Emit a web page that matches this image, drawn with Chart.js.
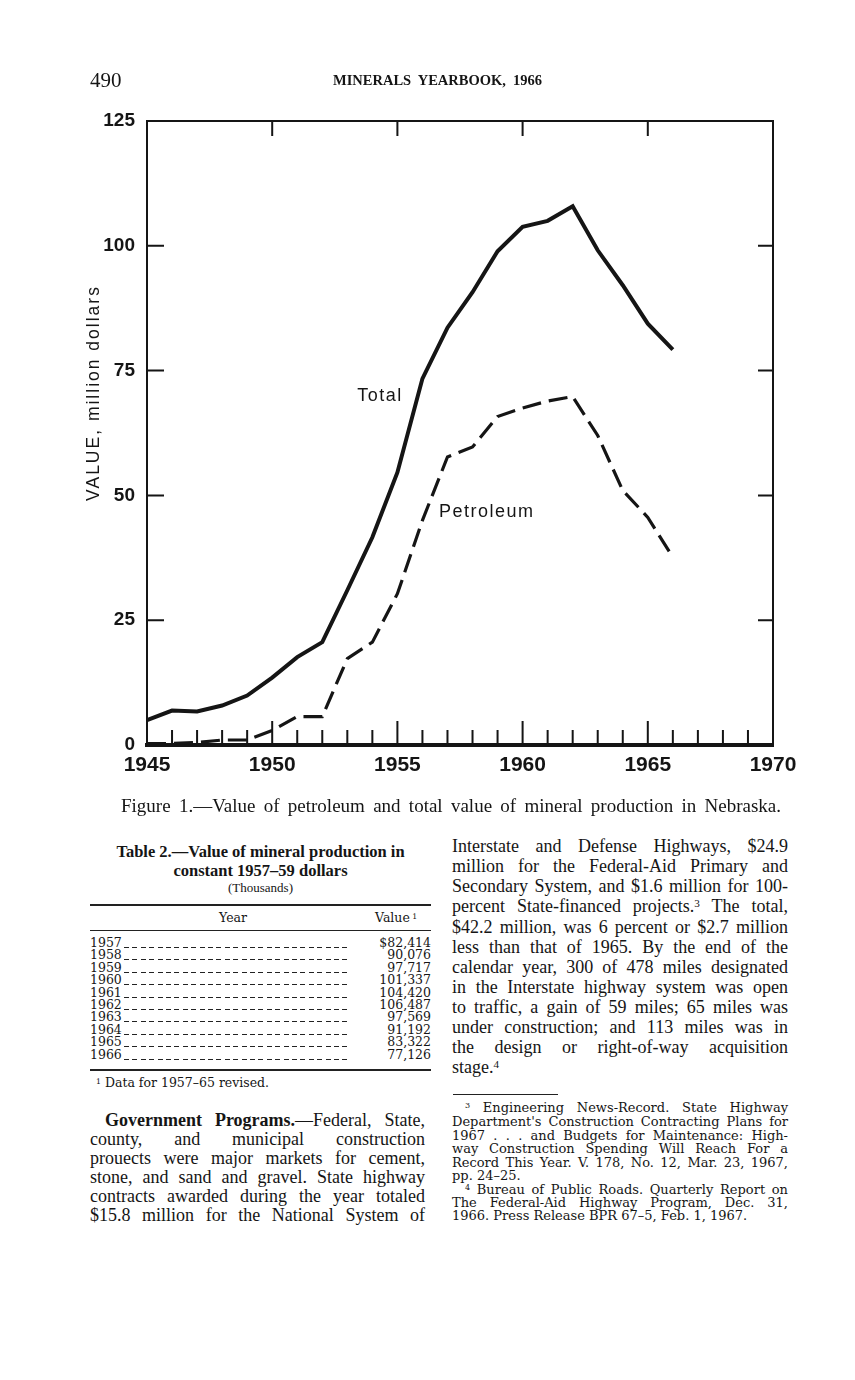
<!DOCTYPE html>
<html>
<head>
<meta charset="utf-8">
<script src="https://cdn.jsdelivr.net/npm/chart.js@4.4.0/dist/chart.umd.min.js"></script>
<style>
  body { margin: 0; background: #fff; color: #151515; }
  #page { position: relative; width: 855px; height: 1380px; overflow: hidden; }
  .ln { position: absolute; white-space: nowrap; }
  .j { text-align: justify; text-align-last: justify; }
  .serif { font-family: "Liberation Serif", serif; }
  .body { font-family: "Liberation Serif", serif; font-size: 18px; line-height: 20px; }
  .note { font-family: "DejaVu Serif", serif; font-size: 13px; line-height: 13.5px; }
  .tab { font-family: "DejaVu Serif", serif; font-size: 12.5px; line-height: 12.4px; }
  sup { font-size: 62%; line-height: 0; vertical-align: 0.45em; }
  .rule { position: absolute; background: #222; }
  .lead { position: absolute; height: 1px;
          background: repeating-linear-gradient(90deg, #222 0 5px, transparent 5px 8.4px); }
  #chartBox { position: absolute; left: 0; top: 0; width: 855px; height: 800px; }
</style>
</head>
<body>
<div id="page">
  <div id="chartBox"><canvas id="lineChart"></canvas></div>

  <!-- running head -->
  <div class="ln serif" style="left:90px; top:68px; font-size:21px; line-height:24px;">490</div>
  <div class="ln serif j" style="left:333px; top:71px; width:209px; font-size:14.5px; line-height:18px; font-weight:bold;">MINERALS YEARBOOK, 1966</div>

  <!-- figure caption -->
  <div class="ln serif j" style="left:121px; top:796px; width:660px; font-size:19px; line-height:20px;">Figure 1.—Value of petroleum and total value of mineral production in Nebraska.</div>

  <!-- table 2 -->
  <div class="ln serif" style="left:90px; top:843px; width:341px; text-align:center; font-size:16.5px; line-height:18px; font-weight:bold;">Table 2.—Value of mineral production in</div>
  <div class="ln serif" style="left:90px; top:862px; width:341px; text-align:center; font-size:16.5px; line-height:18px; font-weight:bold;">constant 1957–59 dollars</div>
  <div class="ln serif" style="left:90px; top:880px; width:341px; text-align:center; font-size:13px; line-height:16px;">(Thousands)</div>
  <div class="rule" style="left:90px; top:904px; width:341px; height:1.6px;"></div>
  <div class="ln tab" style="left:90px; top:912px; width:286px; text-align:center;">Year</div>
  <div class="ln tab" style="left:375px; top:912px;">Value<sup> 1</sup></div>
  <div class="rule" style="left:90px; top:930px; width:341px; height:1px;"></div>
  <div id="tableRows"></div>
  <div class="rule" style="left:90px; top:1069px; width:341px; height:1.6px;"></div>
  <div class="ln tab" style="left:96px; top:1077px;"><sup>1</sup> Data for 1957–65 revised.</div>

  <!-- left column text -->
  <div class="ln body j" style="left:105px; top:1110px; width:320px;"><b>Government Programs.</b>—Federal, State,</div>
  <div class="ln body j" style="left:90px; top:1129px; width:335px;">county, and municipal construction</div>
  <div class="ln body j" style="left:90px; top:1148px; width:335px;">prouects were major markets for cement,</div>
  <div class="ln body j" style="left:90px; top:1167px; width:335px;">stone, and sand and gravel. State highway</div>
  <div class="ln body j" style="left:90px; top:1186px; width:335px;">contracts awarded during the year totaled</div>
  <div class="ln body j" style="left:90px; top:1205px; width:335px;">$15.8 million for the National System of</div>

  <!-- right column text -->
  <div class="ln body j" style="left:452px; top:836px; width:336px;">Interstate and Defense Highways, $24.9</div>
  <div class="ln body j" style="left:452px; top:856px; width:336px;">million for the Federal-Aid Primary and</div>
  <div class="ln body j" style="left:452px; top:876px; width:336px;">Secondary System, and $1.6 million for 100-</div>
  <div class="ln body j" style="left:452px; top:896px; width:336px;">percent State-financed projects.<sup>3</sup> The total,</div>
  <div class="ln body j" style="left:452px; top:917px; width:336px;">$42.2 million, was 6 percent or $2.7 million</div>
  <div class="ln body j" style="left:452px; top:937px; width:336px;">less than that of 1965. By the end of the</div>
  <div class="ln body j" style="left:452px; top:957px; width:336px;">calendar year, 300 of 478 miles designated</div>
  <div class="ln body j" style="left:452px; top:977px; width:336px;">in the Interstate highway system was open</div>
  <div class="ln body j" style="left:452px; top:997px; width:336px;">to traffic, a gain of 59 miles; 65 miles was</div>
  <div class="ln body j" style="left:452px; top:1017px; width:336px;">under construction; and 113 miles was in</div>
  <div class="ln body j" style="left:452px; top:1037px; width:336px;">the design or right-of-way acquisition</div>
  <div class="ln body" style="left:452px; top:1057px;">stage.<sup>4</sup></div>
  <div class="rule" style="left:453px; top:1094px; width:105px; height:1.3px;"></div>

  <!-- footnotes -->
  <div class="ln note j" style="left:465px; top:1101px; width:323px;"><sup>3</sup> Engineering News-Record. State Highway</div>
  <div class="ln note j" style="left:452px; top:1115px; width:336px;">Department's Construction Contracting Plans for</div>
  <div class="ln note j" style="left:452px; top:1129px; width:336px;">1967 . . . and Budgets for Maintenance: High-</div>
  <div class="ln note j" style="left:452px; top:1142px; width:336px;">way Construction Spending Will Reach For a</div>
  <div class="ln note j" style="left:452px; top:1156px; width:336px;">Record This Year. V. 178, No. 12, Mar. 23, 1967,</div>
  <div class="ln note" style="left:452px; top:1169px;">pp. 24–25.</div>
  <div class="ln note j" style="left:465px; top:1183px; width:323px;"><sup>4</sup> Bureau of Public Roads. Quarterly Report on</div>
  <div class="ln note j" style="left:452px; top:1196px; width:336px;">The Federal-Aid Highway Program, Dec. 31,</div>
  <div class="ln note" style="left:452px; top:1209px;">1966. Press Release BPR 67–5, Feb. 1, 1967.</div>
</div>

<script>
// Figure 1 values, million dollars
const years = [1945, 1946, 1947, 1948, 1949, 1950, 1951, 1952, 1953, 1954, 1955,
               1956, 1957, 1958, 1959, 1960, 1961, 1962, 1963, 1964, 1965, 1966];
const totalValues = [5.0, 6.9, 6.7, 7.9, 9.9, 13.5, 17.6, 20.6, 31.0, 41.6, 54.6,
                     73.4, 83.6, 90.7, 98.9, 103.8, 105.0, 107.9, 99.1, 92.1, 84.4, 79.2];
const petroleumValues = [0.3, 0.3, 0.5, 1.0, 1.0, 2.9, 5.7, 5.7, 17.3, 20.6, 30.3,
                         45.0, 57.7, 59.7, 65.8, 67.5, 68.9, 69.8, 62.0, 51.0, 45.6, 37.6];
const yTicks = [0, 25, 50, 75, 100, 125];
const xTickLabels = [1945, 1950, 1955, 1960, 1965, 1970];

// Table 2 (text on the page)
const tableYears = ['1957', '1958', '1959', '1960', '1961', '1962', '1963', '1964', '1965', '1966'];
const tableValues = ['$82,414', '90,076', '97,717', '101,337', '104,420', '106,487',
                     '97,569', '91,192', '83,322', '77,126'];

const INK = '#151515';

// table rows with dot leaders
const rowsBox = document.getElementById('tableRows');
tableYears.forEach((yr, i) => {
    const top = Math.round(937 + i * 12.4);
    rowsBox.insertAdjacentHTML('beforeend',
        `<div class="ln tab" style="left:90px; top:${top}px;">${yr}</div>` +
        `<div class="lead" style="left:124px; width:226px; top:${top + 10}px;"></div>` +
        `<div class="ln tab" style="left:350px; width:81px; text-align:right; top:${top}px;">${tableValues[i]}</div>`);
});

// frame, inward tick marks and curve labels, all placed from the chart scales
const framePlugin = {
    id: 'frame',
    afterDraw(chart) {
        const {ctx, chartArea: a, scales: {x, y}} = chart;
        ctx.save();
        ctx.strokeStyle = INK;
        ctx.lineWidth = 2;
        ctx.beginPath();
        ctx.moveTo(a.left, a.top);
        ctx.lineTo(a.right, a.top);
        ctx.lineTo(a.right, a.bottom);
        y.ticks.forEach(t => {
            if (t.value <= y.min || t.value >= y.max) return;
            const py = y.getPixelForValue(t.value);
            ctx.moveTo(a.left, py); ctx.lineTo(a.left + 17, py);
            ctx.moveTo(a.right - 15, py); ctx.lineTo(a.right, py);
        });
        x.ticks.forEach(t => {
            if (t.value <= x.min || t.value >= x.max) return;
            const px = x.getPixelForValue(t.value);
            const major = t.value % 5 === 0;
            ctx.moveTo(px, a.bottom); ctx.lineTo(px, a.bottom - (major ? 24 : 15));
            if (major) { ctx.moveTo(px, a.top); ctx.lineTo(px, a.top + 15); }
        });
        ctx.stroke();

        ctx.fillStyle = INK;
        ctx.font = '18px "Liberation Sans", sans-serif';
        ctx.letterSpacing = '1.5px';
        ctx.textBaseline = 'middle';
        ctx.textAlign = 'left';
        ctx.fillText('Total', x.getPixelForValue(1953.4), y.getPixelForValue(70));
        ctx.fillText('Petroleum', x.getPixelForValue(1956.66), y.getPixelForValue(46.7));

        // y axis title, rotated
        ctx.translate(a.left - 48.5, (a.top + a.bottom) / 2 - 40);
        ctx.rotate(-Math.PI / 2);
        ctx.font = '17.5px "Liberation Sans", sans-serif';
        ctx.letterSpacing = '2px';
        ctx.textAlign = 'center';
        ctx.textBaseline = 'alphabetic';
        ctx.fillText('VALUE, million dollars', 0, 0);
        ctx.restore();
    }
};

const lineChart = document.getElementById('lineChart');
const myChart = new Chart(lineChart, {
    type: 'line',
    data: {
        datasets: [
            {
                label: 'Total',
                data: years.map((yr, i) => ({x: yr, y: totalValues[i]})),
                borderColor: INK,
                borderWidth: 4,
                pointRadius: 0,
                tension: 0,
                clip: false
            },
            {
                label: 'Petroleum',
                data: years.map((yr, i) => ({x: yr, y: petroleumValues[i]})),
                borderColor: INK,
                borderWidth: 3.2,
                borderDash: [19, 8],
                pointRadius: 0,
                tension: 0,
                clip: false
            }
        ]
    },
    options: {
        responsive: true,
        maintainAspectRatio: false,
        animation: false,
        layout: {
            padding: {top: 121, right: 82, left: 0, bottom: 0}
        },
        scales: {
            x: {
                type: 'linear',
                min: 1945,
                max: 1970,
                grid: {display: false, drawTicks: false},
                border: {display: true, width: 4, color: INK},
                ticks: {
                    stepSize: 1,
                    autoSkip: false,
                    maxRotation: 0,
                    padding: 8,
                    color: INK,
                    font: {family: '"Liberation Sans", sans-serif', size: 21, weight: 'bold'},
                    callback: v => (xTickLabels.includes(v) ? String(v) : '')
                },
                afterFit: s => { s.height = 55; }
            },
            y: {
                min: 0,
                max: 125,
                grid: {display: false, drawTicks: false},
                border: {display: true, width: 2, color: INK},
                afterBuildTicks: s => { s.ticks = yTicks.map(v => ({value: v})); },
                ticks: {
                    padding: 12,
                    color: INK,
                    font: {family: '"Liberation Sans", sans-serif', size: 19, weight: 'bold'}
                },
                afterFit: s => { s.width = 147; }
            }
        },
        plugins: {
            legend: {display: false},
            tooltip: {enabled: false},
            title: {display: false}
        }
    },
    plugins: [framePlugin]
});
</script>
</body>
</html>
